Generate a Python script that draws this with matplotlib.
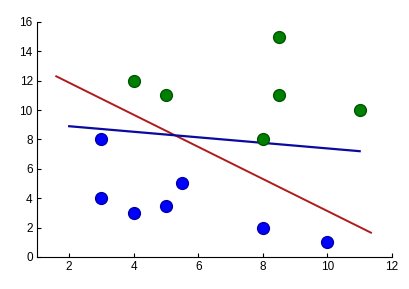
import matplotlib.pyplot as plt

# class 1 (blue) and class 2 (green) points
blue_x = [3, 3, 4, 5, 5.5, 8, 10]
blue_y = [8, 4, 3, 3.5, 5, 2, 1]
green_x = [4, 5, 8, 8.5, 8.5, 11]
green_y = [12, 11, 8, 15, 11, 10]

# separating lines (end points)
red_line_x = [1.6, 11.35]
red_line_y = [12.3, 1.65]
blue_line_x = [2, 11]
blue_line_y = [8.9, 7.2]

plt.rcParams['font.family'] = ['Liberation Sans', 'DejaVu Sans']

fig = plt.figure(figsize=(4.1, 2.89), dpi=100)
ax = fig.add_axes([0.090, 0.111, 0.866, 0.813])

ax.plot(red_line_x, red_line_y, color='#b01a1a', lw=1.4)
ax.plot(blue_line_x, blue_line_y, color='#0a0aa0', lw=1.6)
ax.plot(blue_x, blue_y, 'o', color='#0000ff', mec='#0000aa', ms=8.5)
ax.plot(green_x, green_y, 'o', color='#008000', mec='#005500', ms=8.5)

ax.set_xlim(1, 12)
ax.set_ylim(0, 16)
ax.set_xticks(range(2, 13, 2))
ax.set_yticks(range(0, 17, 2))
ax.spines['top'].set_visible(False)
ax.spines['right'].set_visible(False)
ax.tick_params(direction='in', length=3, labelsize=8.5, pad=3)

fig.savefig('out.png', dpi=100)
